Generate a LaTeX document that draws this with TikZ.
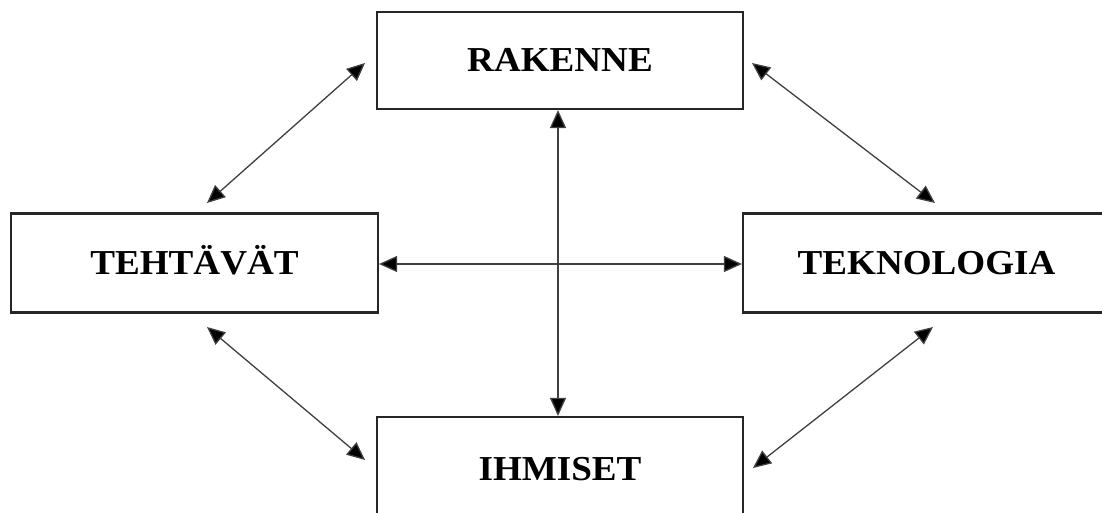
\documentclass[tikz,border=0pt]{standalone}
\usepackage{fontspec}
\setmainfont{Liberation Serif}[FakeStretch=1.06]
\usetikzlibrary{arrows.meta,calc}
\begin{document}
\begin{tikzpicture}[x=1pt,y=-1pt,
  box/.style={draw=black!85, line width=2.2pt, rectangle, inner sep=0pt,
    font=\fontsize{35}{40}\selectfont\bfseries, text height=23pt, text depth=0pt},
  link/.style={draw=black!75, line width=1.3pt,
    {Triangle[length=18pt,width=16pt,fill=black]}-{Triangle[length=18pt,width=16pt,fill=black]}}]
\useasboundingbox (0,0) rectangle (1102,513);
\clip (0,0) rectangle (1102,513);
\fill[white] (0,0) rectangle (1102,513);
\node[box, minimum width=366pt, minimum height=97pt] (R) at (560,60.5) {RAKENNE};
\node[box, minimum width=367pt, minimum height=99pt] (T) at (194.5,263) {TEHTÄVÄT};
\node[box, minimum width=367pt, minimum height=99pt] (K) at (926.5,263) {TEKNOLOGIA};
\node[box, minimum width=366pt, minimum height=104pt] (I) at (560,469) {IHMISET};
\coordinate (tl1) at (365,63);
\coordinate (tl2) at (207,203);
\coordinate (tr1) at (752,63);
\coordinate (tr2) at (935,203);
\coordinate (bl1) at (207,327);
\coordinate (bl2) at (365,460);
\coordinate (br1) at (933,327);
\coordinate (br2) at (753,468);
\draw[link] (tl1) -- (tl2);
\draw[link] (tr1) -- (tr2);
\draw[link] (bl1) -- (bl2);
\draw[link] (br1) -- (br2);
\draw[link] ($(R.south)+(-2,0)$) -- ($(I.north)+(-2,0)$);
\draw[link] ($(T.east)+(0,1)$) -- ($(K.west)+(0,1)$);
\end{tikzpicture}
\end{document}
